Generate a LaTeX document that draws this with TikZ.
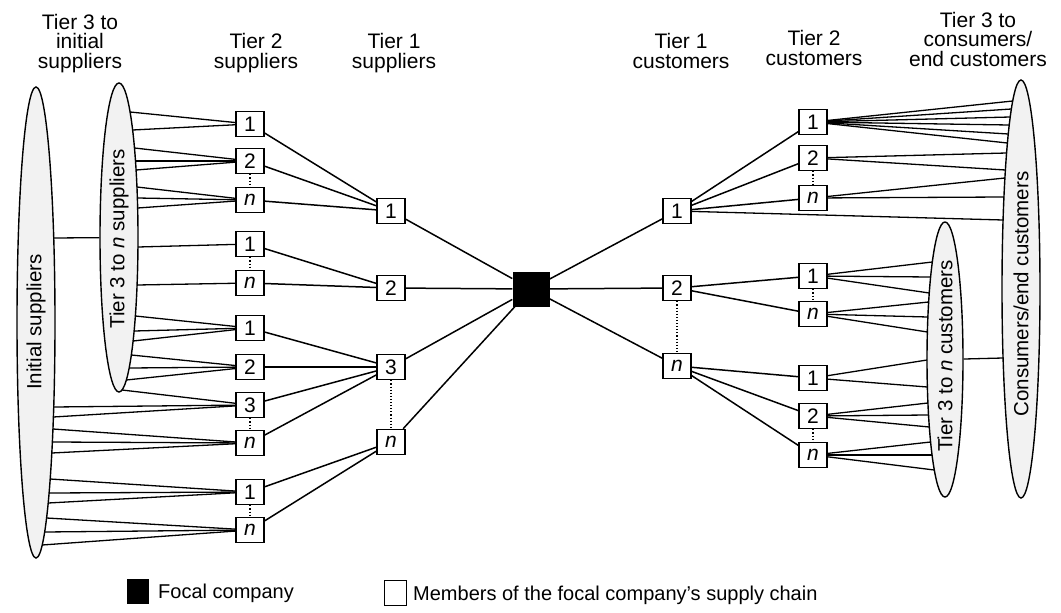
\documentclass[tikz,border=0pt]{standalone}
\usepackage{fontspec}
\setmainfont{Liberation Sans}
\usetikzlibrary{shapes.geometric}

\tikzset{
  member/.style={draw, line width=1.6pt, fill=white, minimum width=28pt,
    minimum height=25pt, inner sep=0pt, font=\fontsize{21}{20}\selectfont},
  focalbox/.style={fill=black, minimum width=37pt, minimum height=35pt, inner sep=0pt},
  tierhead/.style={align=center, font=\fontsize{21}{19.5}\selectfont, anchor=base, inner sep=0pt},
  group/.style={draw, ellipse, line width=1.4pt, fill=gray!10, inner sep=0pt},
  grouptext/.style={rotate=90, font=\fontsize{20.5}{20}\selectfont},
  link/.style={line width=1.5pt},
  fanline/.style={line width=1.3pt},
  gap/.style={dotted, line width=1.1pt},
  legendtext/.style={anchor=west, font=\fontsize{20}{20}\selectfont, inner sep=0pt},
}

% fan of lines from points on an ellipse border to one node
% #1 side (1 = right half, -1 = left half), #2 cx, #3 cy, #4 half width,
% #5 half height, #6 list of y values, #7 target node, #8 coordinate prefix
\newcommand\efan[8]{%
  \foreach \yy [count=\k] in {#6}{%
    \pgfmathsetmacro\dd{(\yy-#3)/#5}%
    \pgfmathsetmacro\xx{#2+#1*#4*sqrt(max(0,1-(\dd)*(\dd)))}%
    \coordinate (#8\k) at (\xx,\yy);
    \draw[fanline] (#8\k) -- (#7);
  }}
\newcommand\fromInit{\efan{1}{36}{322.5}{19}{235.5}}
\newcommand\fromTierS{\efan{1}{119}{237.5}{19}{154.5}}
\newcommand\toTierC{\efan{-1}{945}{359.5}{18}{137.5}}
\newcommand\toCons{\efan{-1}{1021}{289}{19}{209}}

\begin{document}
\begin{tikzpicture}[x=1pt,y=-1pt]
\useasboundingbox (0,0) rectangle (1061,613);

% column headings (anchored at the baseline of their last line)
\node[tierhead] (hA) at (80,68) {Tier 3 to\\initial\\suppliers};
\node[tierhead] (hB) at (256,68) {Tier 2\\suppliers};
\node[tierhead] (hC) at (394,68) {Tier 1\\suppliers};
\node[tierhead] (hD) at (681,68) {Tier 1\\customers};
\node[tierhead] (hE) at (814,65) {Tier 2\\customers};
\node[tierhead] (hF) at (978,66) {Tier 3 to\\consumers/\\end customers};

% grouped tiers drawn as ellipses
\node[group, minimum width=38pt, minimum height=471pt] (init) at (36,322.5) {};
\node[group, minimum width=38pt, minimum height=309pt] (tierS) at (119,237.5) {};
\node[group, minimum width=36pt, minimum height=275pt] (tierC) at (945,359.5) {};
\node[group, minimum width=38pt, minimum height=418pt] (cons) at (1021,289) {};
\node[grouptext] (initT) at (36,322) {Initial suppliers};
\node[grouptext] (tierST) at (119,239) {Tier 3 to \textit{n} suppliers};
\node[grouptext] (tierCT) at (945,356) {Tier 3 to \textit{n} customers};
\node[grouptext] (consT) at (1021,294) {Consumers/end customers};

% tier 2 suppliers
\node[member] (s2a) at (250,124) {1};
\node[member] (s2b) at (250,161) {2};
\node[member] (s2c) at (250,200) {\textit{n}};
\node[member] (s2d) at (250,244) {1};
\node[member] (s2e) at (250,283) {\textit{n}};
\node[member] (s2f) at (250,328) {1};
\node[member] (s2g) at (250,367) {2};
\node[member] (s2h) at (250,405) {3};
\node[member] (s2i) at (250,443) {\textit{n}};
\node[member] (s2j) at (250,492) {1};
\node[member] (s2k) at (250,530) {\textit{n}};

% tier 1 suppliers
\node[member] (s1a) at (391,211) {1};
\node[member] (s1b) at (391,288) {2};
\node[member] (s1c) at (391,367) {3};
\node[member] (s1d) at (391,442) {\textit{n}};

% focal company
\node[focalbox] (focal) at (531,289) {};

% tier 1 customers
\node[member] (c1a) at (677,211) {1};
\node[member] (c1b) at (677,288) {2};
\node[member] (c1c) at (677,366) {\textit{n}};

% tier 2 customers
\node[member] (c2a) at (813,122) {1};
\node[member] (c2b) at (813,158) {2};
\node[member] (c2c) at (813,198) {\textit{n}};
\node[member] (c2d) at (813,276) {1};
\node[member] (c2e) at (813,314) {\textit{n}};
\node[member] (c2f) at (813,378) {1};
\node[member] (c2g) at (813,416) {2};
\node[member] (c2h) at (813,455) {\textit{n}};

% ellipse to ellipse
\fromInit{238}{tierS}{ia}
\toCons{358}{tierC}{ka}

% fans on the supply side
\fromTierS{112,130}{s2a}{ta}
\fromTierS{148,161,170}{s2b}{tb}
\fromTierS{187,198,208}{s2c}{tc}
\fromTierS{247}{s2d}{td}
\fromTierS{285}{s2e}{te}
\fromTierS{316,331,341}{s2f}{tf}
\fromTierS{355,368,380}{s2g}{tg}
\fromTierS{390}{s2h}{th}
\fromInit{407,417}{s2h}{ih}
\fromInit{429,442,453}{s2i}{ii}
\fromInit{479,493,503}{s2j}{ij}
\fromInit{518,532,545}{s2k}{ik}

% fans on the customer side
\toCons{101,109,117,125,134,143}{c2a}{ca}
\toCons{153,170}{c2b}{cb}
\toCons{178,197}{c2c}{cc}
\toCons{220}{c1a}{cm}
\toTierC{262,277,293}{c2d}{kd}
\toTierC{302,317,332}{c2e}{ke}
\toTierC{360,387}{c2f}{kf}
\toTierC{403,415,427}{c2g}{kg}
\toTierC{442,455,470}{c2h}{kh}

% tier 2 to tier 1 suppliers
\foreach \a in {s2a,s2b,s2c} \draw[link] (\a) -- (s1a);
\foreach \a in {s2d,s2e} \draw[link] (\a) -- (s1b);
\foreach \a in {s2f,s2g,s2h,s2i} \draw[link] (\a) -- (s1c);
\foreach \a in {s2j,s2k} \draw[link] (\a) -- (s1d);

% tier 1 suppliers to focal company to tier 1 customers
\foreach \a in {s1a,s1b,s1c,s1d} \draw[link] (\a) -- (focal);
\foreach \a in {c1a,c1b,c1c} \draw[link] (focal) -- (\a);

% tier 1 to tier 2 customers
\foreach \a in {c2a,c2b,c2c} \draw[link] (c1a) -- (\a);
\foreach \a in {c2d,c2e} \draw[link] (c1b) -- (\a);
\foreach \a in {c2f,c2g,c2h} \draw[link] (c1c) -- (\a);

% omitted members in between
\draw[gap] (s2b) -- (s2c);
\draw[gap] (s2d) -- (s2e);
\draw[gap] (s2h) -- (s2i);
\draw[gap] (s2j) -- (s2k);
\draw[gap] (s1c) -- (s1d);
\draw[gap] (c1b) -- (c1c);
\draw[gap] (c2b) -- (c2c);
\draw[gap] (c2d) -- (c2e);
\draw[gap] (c2g) -- (c2h);

% legend
\node[fill=black, minimum width=22pt, minimum height=25pt, inner sep=0pt] (keyF) at (138,591) {};
\node[legendtext] (keyFT) at (158,593) {Focal company};
\node[draw, line width=1pt, fill=white, minimum width=22pt, minimum height=25pt, inner sep=0pt] (keyM) at (395,593) {};
\node[legendtext] (keyMT) at (413,595) {Members of the focal company's supply chain};
\end{tikzpicture}
\end{document}
